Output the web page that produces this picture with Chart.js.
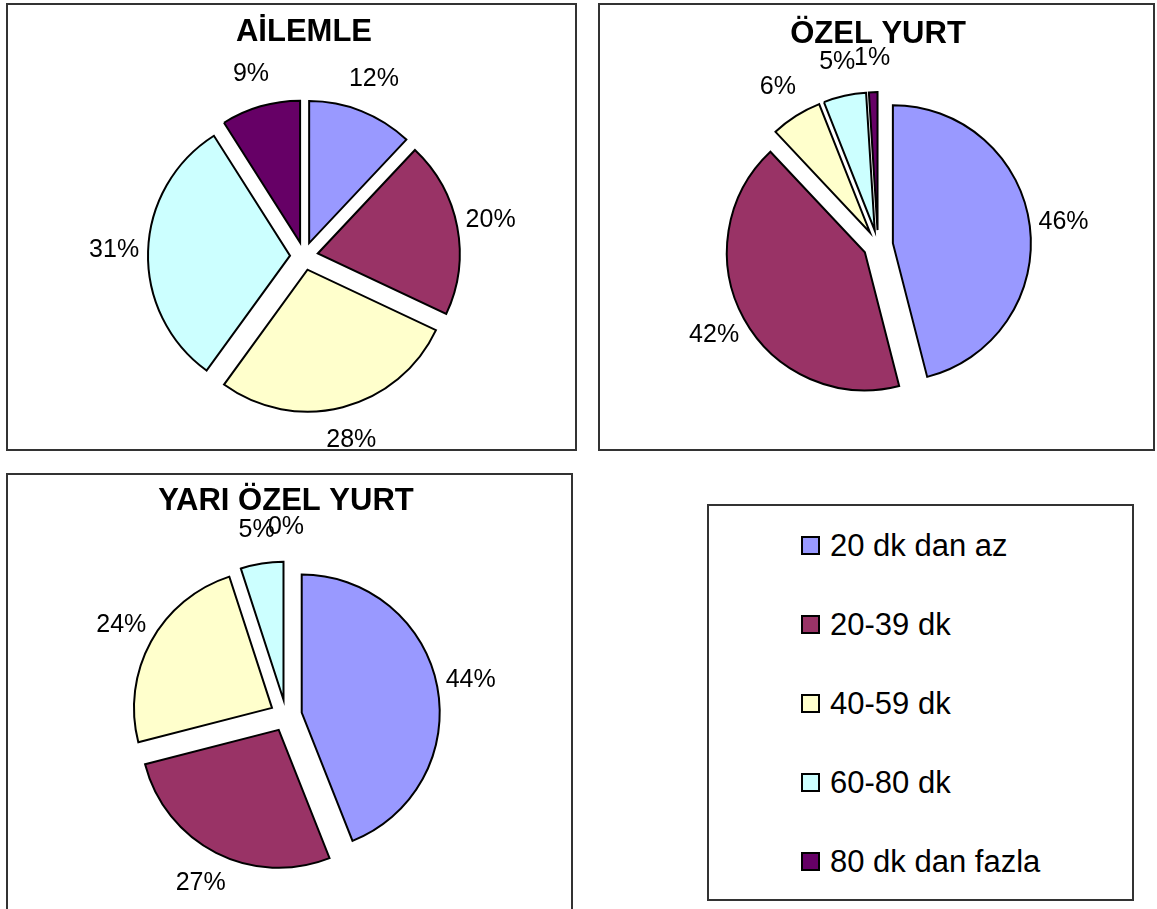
<!DOCTYPE html>
<html>
<head>
<meta charset="utf-8">
<script src="https://cdn.jsdelivr.net/npm/chart.js@4.4.1/dist/chart.umd.min.js"></script>
<style>
body {
    margin: 0;
    background: #fff;
    width: 1157px;
    height: 909px;
    overflow: hidden;
    position: relative;
    font-family: "Liberation Sans", Arial, sans-serif;
}
.panel {
    position: absolute;
    box-sizing: border-box;
    border: 2px solid #333;
    background: #fff;
}
.panel .inner {
    position: relative;
    width: 100%;
    height: 100%;
}
#legend-box ul {
    list-style: none;
    margin: 0;
    padding: 0;
}
#legend-box li {
    height: 79px;
    display: flex;
    align-items: center;
    padding-left: 92px;
    font-size: 31px;
    color: #000;
}
#legend-box .swatch {
    display: inline-block;
    box-sizing: border-box;
    width: 19px;
    height: 19px;
    border: 2px solid #000;
    margin-right: 10px;
}
</style>
</head>
<body>

<div class="panel" style="left:6px; top:3px; width:571px; height:448px;">
    <div class="inner"><canvas id="chart-ailemle"></canvas></div>
</div>
<div class="panel" style="left:598px; top:3px; width:557px; height:448px;">
    <div class="inner"><canvas id="chart-ozel"></canvas></div>
</div>
<div class="panel" style="left:6px; top:473px; width:567px; height:445px;">
    <div class="inner"><canvas id="chart-yariozel"></canvas></div>
</div>
<div class="panel" id="legend-box" style="left:707px; top:504px; width:427px; height:397px;"></div>

<script>
// data
var categories = ['20 dk dan az', '20-39 dk', '40-59 dk', '60-80 dk', '80 dk dan fazla'];
var ailemleValues = [12, 20, 28, 31, 9];
var ozelYurtValues = [46, 42, 6, 5, 1];
var yariOzelValues = [44, 27, 24, 5, 0];

var sliceColors = [
    '#9999ff', // blue
    '#993366', // maroon
    '#ffffcc', // light yellow
    '#ccffff', // light cyan
    '#660066'  // purple
];

// pull every slice out from the centre along its middle angle
var explode = {
    id: 'explode',
    afterDatasetsUpdate: function(chart, args, opts) {
        chart.getDatasetMeta(0).data.forEach(function(arc) {
            var mid = (arc.startAngle + arc.endAngle) / 2;
            arc.x += Math.cos(mid) * opts.distance;
            arc.y += Math.sin(mid) * opts.distance;
        });
    }
};

// percentage labels outside the slices
var outsideLabels = {
    id: 'outsideLabels',
    afterDatasetsDraw: function(chart, args, opts) {
        var ctx = chart.ctx;
        var values = chart.data.datasets[0].data;
        var total = values.reduce(function(a, b) { return a + b; }, 0);
        ctx.save();
        ctx.font = '25px "Liberation Sans", Arial, sans-serif';
        ctx.fillStyle = '#000';
        ctx.textAlign = 'center';
        ctx.textBaseline = 'middle';
        chart.getDatasetMeta(0).data.forEach(function(arc, i) {
            var mid = (arc.startAngle + arc.endAngle) / 2;
            var r = arc.outerRadius + opts.gap;
            var pct = Math.round(values[i] / total * 100) + '%';
            ctx.fillText(pct, arc.x + Math.cos(mid) * r, arc.y + Math.sin(mid) * r);
        });
        ctx.restore();
    }
};

function makePie(id, title, values, g) {
    var ctx = document.getElementById(id).getContext('2d');
    return new Chart(ctx, {
        type: 'pie',
        data: {
            labels: categories,
            datasets: [{
                data: values,
                backgroundColor: sliceColors,
                borderColor: '#000',
                borderWidth: 2,
                borderJoinStyle: 'miter',
                radius: g.radius
            }]
        },
        options: {
            responsive: true,
            maintainAspectRatio: false,
            animation: false,
            events: [],
            layout: { padding: g.padding },
            plugins: {
                legend: { display: false },
                tooltip: { enabled: false },
                title: {
                    display: true,
                    text: title,
                    color: '#000',
                    font: { family: '"Liberation Sans", Arial, sans-serif', size: 31, weight: 'bold' },
                    padding: g.titlePadding
                },
                explode: { distance: g.distance },
                outsideLabels: { gap: 34 }
            }
        },
        plugins: [explode, outsideLabels]
    });
}

window.onload = function() {
    var pie1 = makePie('chart-ailemle', 'AİLEMLE', ailemleValues, {
        radius: 142, distance: 14,
        padding: { left: 25, right: 0, top: 0, bottom: 0 },
        titlePadding: { top: 9, bottom: 12 }
    });
    makePie('chart-ozel', 'ÖZEL YURT', ozelYurtValues, {
        radius: 138, distance: 15,
        padding: { left: 3, right: 0, top: 0, bottom: 12 },
        titlePadding: { top: 11, bottom: 0 }
    });
    makePie('chart-yariozel', 'YARI ÖZEL YURT', yariOzelValues, {
        radius: 138, distance: 16,
        padding: { left: 0, right: 7, top: 0, bottom: 5 },
        titlePadding: { top: 8, bottom: 0 }
    });

    // html legend built from the first chart's legend items
    var items = pie1.options.plugins.legend.labels.generateLabels(pie1);
    var ul = document.createElement('ul');
    items.forEach(function(item) {
        var li = document.createElement('li');
        var box = document.createElement('span');
        box.className = 'swatch';
        box.style.background = item.fillStyle;
        li.appendChild(box);
        li.appendChild(document.createTextNode(item.text));
        ul.appendChild(li);
    });
    document.getElementById('legend-box').appendChild(ul);
};
</script>
</body>
</html>
